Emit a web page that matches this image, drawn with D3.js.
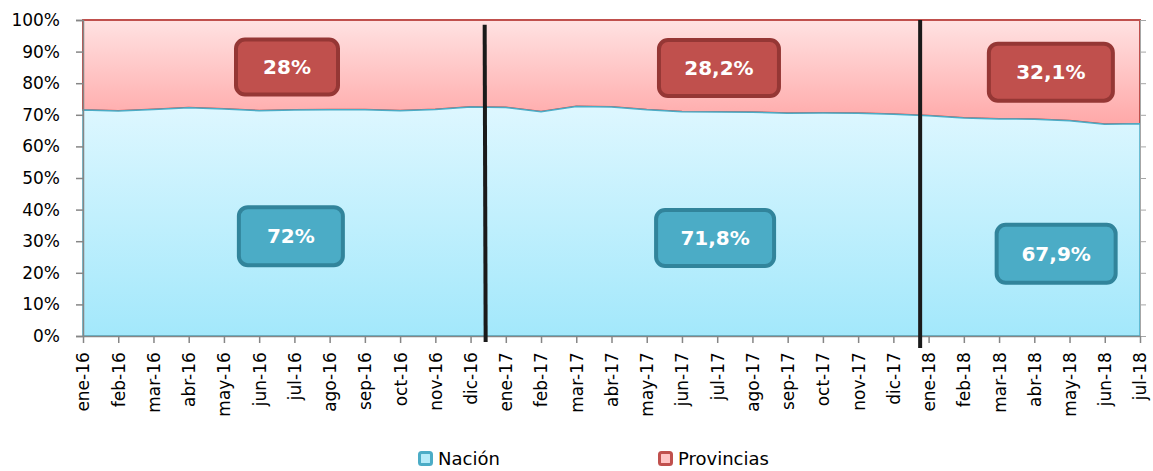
<!DOCTYPE html>
<html>
<head>
<meta charset="utf-8">
<script src="https://cdn.jsdelivr.net/npm/d3@7"></script>
<style>
  body { margin: 0; background: #fff; }
  text { font-family: "DejaVu Sans", Verdana, sans-serif; }
</style>
</head>
<body>
<div id="chart"></div>
<script>
// months on the x axis
var months = ["ene-16","feb-16","mar-16","abr-16","may-16","jun-16","jul-16","ago-16","sep-16","oct-16","nov-16","dic-16",
              "ene-17","feb-17","mar-17","abr-17","may-17","jun-17","jul-17","ago-17","sep-17","oct-17","nov-17","dic-17",
              "ene-18","feb-18","mar-18","abr-18","may-18","jun-18","jul-18"];
// share of Nación (%), Provincias is the rest up to 100
var nacion = [71.5,71.2,71.7,72.2,71.8,71.3,71.5,71.6,71.6,71.3,71.7,72.5,
              72.3,71.0,72.6,72.5,71.6,71.0,70.9,70.8,70.5,70.6,70.5,70.2,
              69.7,69.0,68.7,68.6,68.1,67.0,67.2];
var yTicks = [0,10,20,30,40,50,60,70,80,90,100];
var seriesNames = ["Nación", "Provincias"];
// yearly averages shown in the boxes
var provLabels = ["28%", "28,2%", "32,1%"];
var nacLabels = ["72%", "71,8%", "67,9%"];
// year breaks (month index where the black line sits)
var yearBreaks = [11.4, 23.76];

var margin = {top: 20, right: 13, bottom: 135, left: 83},
    width = 1153 - margin.left - margin.right,
    height = 471 - margin.top - margin.bottom;

var x = d3.scaleLinear().domain([0, months.length - 1]).range([0, width]);
var y = d3.scaleLinear().domain([0, 100]).range([height, 0]);

var svg = d3.select("#chart").append("svg")
    .attr("width", 1153).attr("height", 471)
  .append("g")
    .attr("transform", "translate(" + margin.left + "," + margin.top + ")");

var defs = svg.append("defs");
var gb = defs.append("linearGradient").attr("id", "gBlue")
    .attr("gradientUnits", "userSpaceOnUse").attr("x1", 0).attr("x2", 0).attr("y1", y(72)).attr("y2", y(0));
gb.append("stop").attr("offset", 0).attr("stop-color", "#ddf7ff");
gb.append("stop").attr("offset", 1).attr("stop-color", "#a3e8fb");
var gr = defs.append("linearGradient").attr("id", "gRed")
    .attr("gradientUnits", "userSpaceOnUse").attr("x1", 0).attr("x2", 0).attr("y1", y(100)).attr("y2", y(67));
gr.append("stop").attr("offset", 0).attr("stop-color", "#ffe2e2");
gr.append("stop").attr("offset", 1).attr("stop-color", "#ffa8a8");

// Provincias area (stacked on top of Nación)
var areaProv = d3.area()
    .x(function(d, i) { return x(i); })
    .y0(function(d) { return y(d); })
    .y1(function() { return y(100); });
svg.append("path").datum(nacion)
    .attr("d", areaProv)
    .attr("fill", "url(#gRed)")
    .attr("stroke", "#c0504d").attr("stroke-width", 2);

var areaNac = d3.area()
    .x(function(d, i) { return x(i); })
    .y0(y(0))
    .y1(function(d) { return y(d); });
svg.append("path").datum(nacion)
    .attr("d", areaNac)
    .attr("fill", "url(#gBlue)")
    .attr("stroke", "#4bacc6").attr("stroke-width", 1.5);

// Y axis
var yAxis = svg.append("g")
    .call(d3.axisLeft(y).tickValues(yTicks).tickFormat(function(d) { return d + "%"; }).tickSize(7).tickPadding(16));
yAxis.selectAll("text").attr("font-size", "17px").attr("fill", "#000");
yAxis.selectAll("line, path").attr("stroke", "#868686").attr("stroke-width", 1.5);

// right axis (ticks only)
var yAxisR = svg.append("g").attr("transform", "translate(" + width + ",0)")
    .call(d3.axisRight(y).tickValues(yTicks).tickFormat("").tickSize(6));
yAxisR.selectAll("line, path").attr("stroke", "#a6a6a6").attr("stroke-width", 1);

// X axis
var xAxis = svg.append("g").attr("transform", "translate(0," + height + ")")
    .call(d3.axisBottom(x).tickValues(d3.range(months.length)).tickFormat(function(i) { return months[i]; }).tickSize(7).tickSizeOuter(0));
xAxis.selectAll("line, path").attr("stroke", "#868686").attr("stroke-width", 1.5);
xAxis.selectAll("text")
    .attr("font-size", "17px").attr("fill", "#000")
    .attr("text-anchor", "end")
    .attr("transform", "rotate(-90)")
    .attr("dy", "0.35em").attr("dx", "-0.95em").attr("y", 0).attr("x", 0);

// year separators
svg.selectAll(".sep").data(yearBreaks).enter().append("line")
    .attr("class", "sep")
    .attr("x1", function(d) { return x(d); }).attr("x2", function(d, i) { return x(d) + (i === 0 ? 1 : 0); })
    .attr("y1", function(d, i) { return i === 0 ? y(98.5) : y(100); })
    .attr("y2", function(d, i) { return i === 0 ? height + 6 : height + 12; })
    .attr("stroke", "#1a1a1a").attr("stroke-width", 4);

// value boxes
var boxLayout = [
  {i: 5.79, v: 85.1, w: 102, h: 55},
  {i: 18.05, v: 84.8, w: 120, h: 56},
  {i: 27.47, v: 83.5, w: 124, h: 57},
  {i: 5.9, v: 31.6, w: 104, h: 58},
  {i: 17.94, v: 31.0, w: 118, h: 56},
  {i: 27.62, v: 26.0, w: 119, h: 58}
];
var boxes = provLabels.map(function(t) { return {t: t, fill: "#c0504d", stroke: "#953735"}; })
  .concat(nacLabels.map(function(t) { return {t: t, fill: "#4bacc6", stroke: "#31849b"}; }));
boxes.forEach(function(b, k) { Object.assign(b, boxLayout[k]); });

var bg = svg.selectAll(".box").data(boxes).enter().append("g")
    .attr("transform", function(d) { return "translate(" + x(d.i) + "," + y(d.v) + ")"; });
bg.append("rect")
    .attr("x", function(d) { return -d.w / 2; }).attr("y", function(d) { return -d.h / 2; })
    .attr("width", function(d) { return d.w; }).attr("height", function(d) { return d.h; })
    .attr("rx", 9)
    .attr("fill", function(d) { return d.fill; })
    .attr("stroke", function(d) { return d.stroke; }).attr("stroke-width", 4);
bg.append("text")
    .attr("text-anchor", "middle").attr("dy", "0.36em")
    .attr("font-size", "20px").attr("font-weight", "bold").attr("fill", "#fff")
    .text(function(d) { return d.t; });

// legend
var legend = d3.select("svg").append("g");
var legX = [418, 658];
var legItems = legend.selectAll("g").data(seriesNames).enter().append("g")
    .attr("transform", function(d, i) { return "translate(" + legX[i] + ",451)"; });
legItems.append("rect")
    .attr("x", 1.5).attr("y", 1.5).attr("width", 12).attr("height", 12).attr("rx", 2)
    .attr("fill", function(d, i) { return i === 0 ? "#b5ebf9" : "#ffc4c4"; })
    .attr("stroke", function(d, i) { return i === 0 ? "#4bacc6" : "#c0504d"; })
    .attr("stroke-width", 3);
legItems.append("text")
    .attr("x", 20).attr("y", 8).attr("dy", "0.36em")
    .attr("font-size", "18px").attr("fill", "#000")
    .text(function(d) { return d; });
</script>
</body>
</html>
